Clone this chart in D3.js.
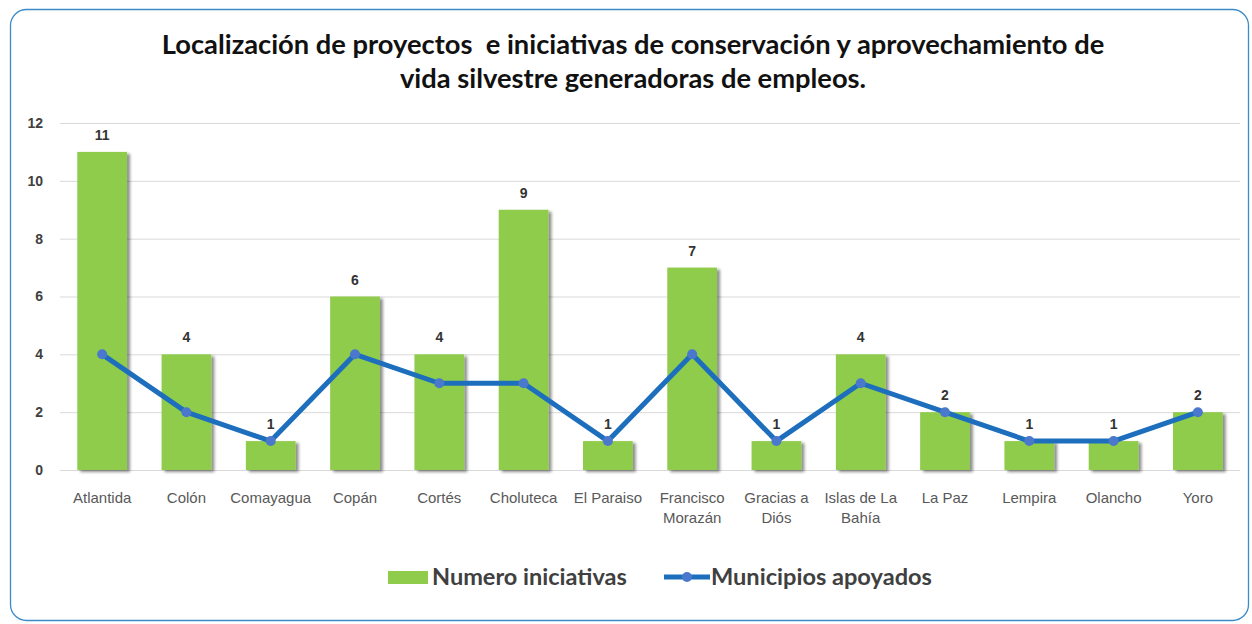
<!DOCTYPE html>
<html><head><meta charset="utf-8">
<script src="https://cdn.jsdelivr.net/npm/d3@7"></script>
<style>body{margin:0;background:#fff}svg{display:block}.pre{white-space:pre}</style>
</head><body><svg id="c" width="1252" height="624"></svg>
<script>
const categories = [["Atlantida"],["Colón"],["Comayagua"],["Copán"],["Cortés"],["Choluteca"],["El Paraiso"],["Francisco","Morazán"],["Gracias a","Diós"],["Islas de La","Bahía"],["La Paz"],["Lempira"],["Olancho"],["Yoro"]];
const iniciativas = [11,4,1,6,4,9,1,7,1,4,2,1,1,2];
const municipios = [4,2,1,4,3,3,1,4,1,3,2,1,1,2];
const yTicks = [0,2,4,6,8,10,12];
const titleLines = ["Localización de proyectos  e iniciativas de conservación y aprovechamiento de","vida silvestre generadoras de empleos."];
const seriesNames = ["Numero iniciativas","Municipios apoyados"];

const svg = d3.select("#c");
const keys = categories.map(c=>c.join(" "));
const x = d3.scaleBand().domain(keys).range([60,1240]).paddingInner(0.41).paddingOuter(0.205);
const y = d3.scaleLinear().domain([0,12]).range([470,123]);

function fitWidth(sel, target){
  const w = sel.node().getComputedTextLength();
  const fs = parseFloat(sel.attr("font-size"));
  sel.attr("font-size", fs*target/w);
}

const defs = svg.append("defs");
const f = defs.append("filter").attr("id","sh").attr("x","-20%").attr("y","-20%").attr("width","150%").attr("height","150%");
f.append("feGaussianBlur").attr("in","SourceAlpha").attr("stdDeviation",1.5).attr("result","b");
f.append("feOffset").attr("dx",3).attr("dy",2).attr("result","o");
f.append("feComponentTransfer").append("feFuncA").attr("type","linear").attr("slope",0.45);
const m = f.append("feMerge"); m.append("feMergeNode"); m.append("feMergeNode").attr("in","SourceGraphic");

svg.append("rect").attr("x",10.5).attr("y",9.5).attr("width",1238).attr("height",611).attr("rx",16)
  .attr("fill","#fff").attr("stroke","#3c8ac6").attr("stroke-width",1.3);

const tt = svg.append("g").selectAll("text").data(titleLines).join("text")
  .attr("class","pre")
  .attr("x",633).attr("y",(d,i)=>54+i*34).attr("text-anchor","middle")
  .attr("font-family","Lato, Open Sans, sans-serif").attr("font-weight","bold").attr("font-size",22)
  .attr("fill","#111").text(d=>d);
const t0 = d3.select(tt.nodes()[0]);
fitWidth(t0, 943);
tt.attr("font-size", t0.attr("font-size"));

// grid
svg.append("g").selectAll("line").data(yTicks).join("line")
  .attr("x1",60).attr("x2",1240).attr("y1",d=>y(d)+0.5).attr("y2",d=>y(d)+0.5)
  .attr("stroke","#d9d9d9").attr("stroke-width",1);

const ya = svg.append("g").attr("transform","translate(43,0)")
  .call(d3.axisLeft(y).tickValues(yTicks).tickSize(0).tickPadding(0));
ya.select(".domain").remove();
ya.selectAll("text").attr("font-family","Liberation Sans, Arial, sans-serif").attr("font-weight","bold")
  .attr("font-size",14).attr("fill","#404040");

// bars
svg.append("g").attr("filter","url(#sh)").selectAll("rect").data(iniciativas).join("rect")
  .attr("x",(d,i)=>x(keys[i])).attr("width",x.bandwidth())
  .attr("y",d=>y(d)).attr("height",d=>y(0)-y(d)).attr("fill","#8fcc4c");

// line
const cx = i=>x(keys[i])+x.bandwidth()/2;
svg.append("path").datum(municipios)
  .attr("d",d3.line().x((d,i)=>cx(i)).y(d=>y(d)))
  .attr("fill","none").attr("stroke","#1d6fbd").attr("stroke-width",5).attr("stroke-linejoin","round");
svg.append("g").selectAll("circle").data(municipios).join("circle")
  .attr("cx",(d,i)=>cx(i)).attr("cy",d=>y(d)).attr("r",5).attr("fill","#4a78cc");

// data labels
svg.append("g").selectAll("text").data(iniciativas).join("text")
  .attr("x",(d,i)=>cx(i)).attr("y",d=>y(d)-12).attr("text-anchor","middle")
  .attr("font-family","Liberation Sans Narrow, Arial Narrow, sans-serif").attr("font-weight","bold")
  .attr("font-size",14).attr("fill","#333").text(d=>d);

// category labels
const xl = svg.append("g").selectAll("text").data(categories).join("text")
  .attr("x",(d,i)=>cx(i)).attr("y",503).attr("text-anchor","middle")
  .attr("font-family","Liberation Sans Narrow, Arial Narrow, sans-serif")
  .attr("font-size",15).attr("fill","#595959");
xl.selectAll("tspan").data(d=>d).join("tspan").attr("x",function(){return this.parentNode.getAttribute("x")})
  .attr("dy",(d,i)=>i?20:0).text(d=>d);

// legend
const lg = svg.append("g");
lg.append("rect").attr("x",388).attr("y",571).attr("width",40).attr("height",13).attr("fill","#8fcc4c");
const l1 = lg.append("text").attr("x",432).attr("y",585).text(seriesNames[0]);
lg.append("line").attr("x1",664).attr("x2",710).attr("y1",577).attr("y2",577).attr("stroke","#1d6fbd").attr("stroke-width",5);
lg.append("circle").attr("cx",687).attr("cy",577).attr("r",5).attr("fill","#4a78cc");
const l2 = lg.append("text").attr("x",711).attr("y",585).text(seriesNames[1]);
lg.selectAll("text").attr("font-family","Lato, Open Sans, sans-serif").attr("font-weight","bold").attr("font-size",20).attr("fill","#404040");
fitWidth(l1,195); fitWidth(l2,221);
</script></body></html>
